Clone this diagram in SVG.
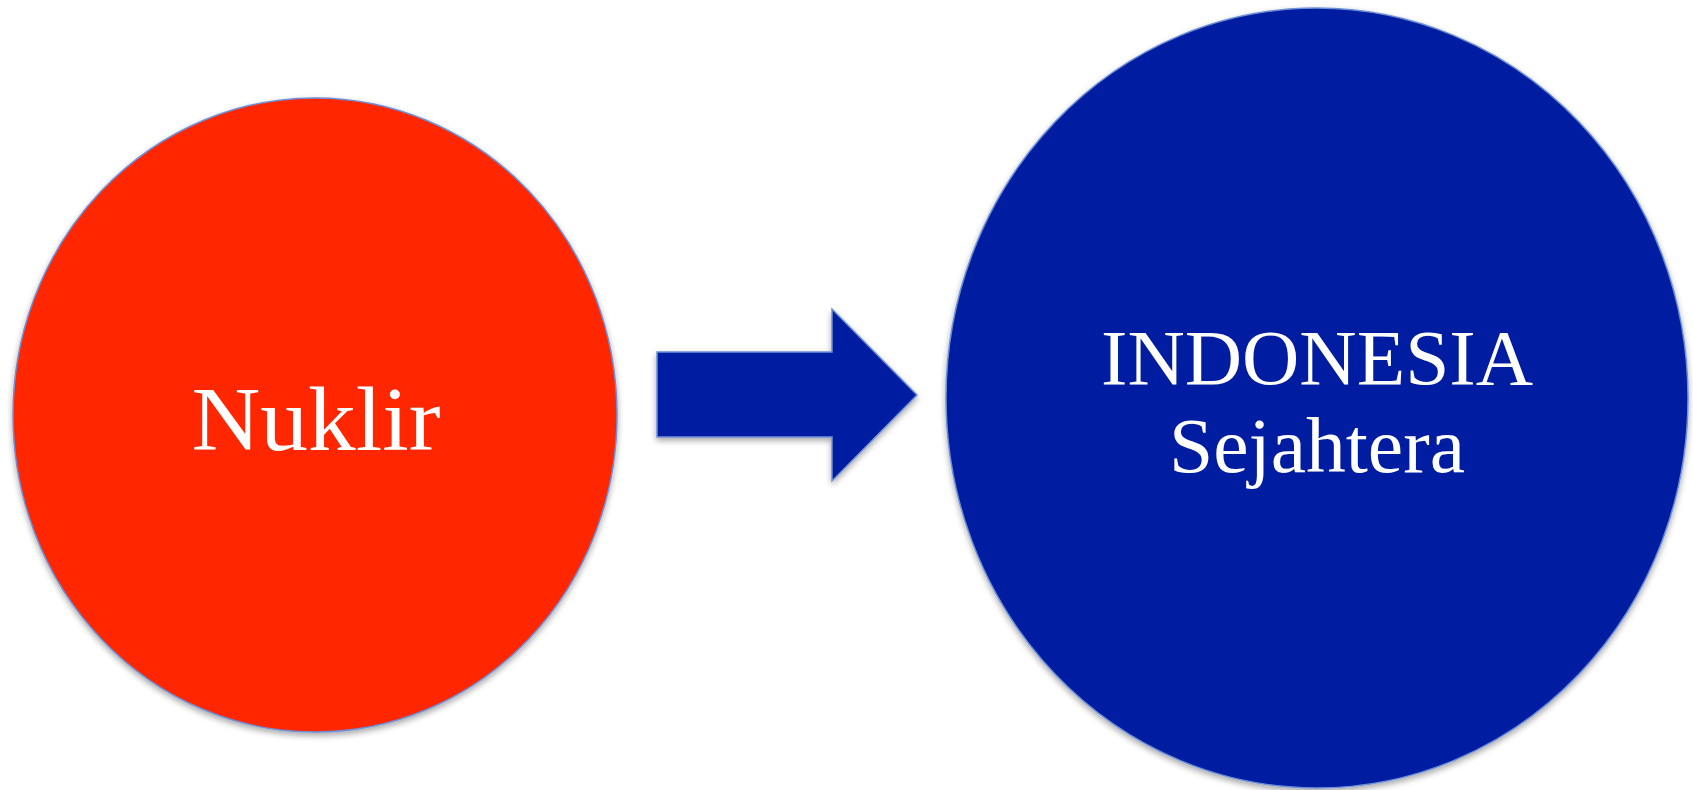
<svg xmlns="http://www.w3.org/2000/svg" width="1693" height="790" viewBox="0 0 1693 790">
<defs>
<filter id="sh" x="-10%" y="-10%" width="120%" height="120%">
<feGaussianBlur in="SourceAlpha" stdDeviation="3"/>
<feOffset dx="0" dy="3" result="b"/>
<feComponentTransfer><feFuncA type="linear" slope="0.35"/></feComponentTransfer>
<feMerge><feMergeNode/><feMergeNode in="SourceGraphic"/></feMerge>
</filter>
</defs>
<style>
.shape{stroke:#6d8fd6;stroke-width:1.5;filter:url(#sh)}
.lbl{font-family:"Liberation Serif","DejaVu Serif",serif;fill:#ffffff;text-anchor:middle}
</style>
<rect width="1693" height="790" fill="#ffffff"/>
<g id="connectors">
<polygon class="shape" fill="#001ea0" points="657,352 832,352 832,309 917,395 832,481 832,437 657,437"/>
</g>
<g id="node-nuklir">
<ellipse class="shape" fill="#ff2500" cx="315" cy="415" rx="302" ry="317"/>
<text class="lbl" x="316" y="450" font-size="90" textLength="249" lengthAdjust="spacingAndGlyphs">Nuklir</text>
</g>
<g id="node-indonesia">
<ellipse class="shape" fill="#001ea0" cx="1317" cy="398" rx="371" ry="390"/>
<text class="lbl" x="1317" y="384" font-size="78" textLength="432" lengthAdjust="spacingAndGlyphs">INDONESIA</text>
<text class="lbl" x="1317" y="472" font-size="78" textLength="296" lengthAdjust="spacingAndGlyphs">Sejahtera</text>
</g>
</svg>
